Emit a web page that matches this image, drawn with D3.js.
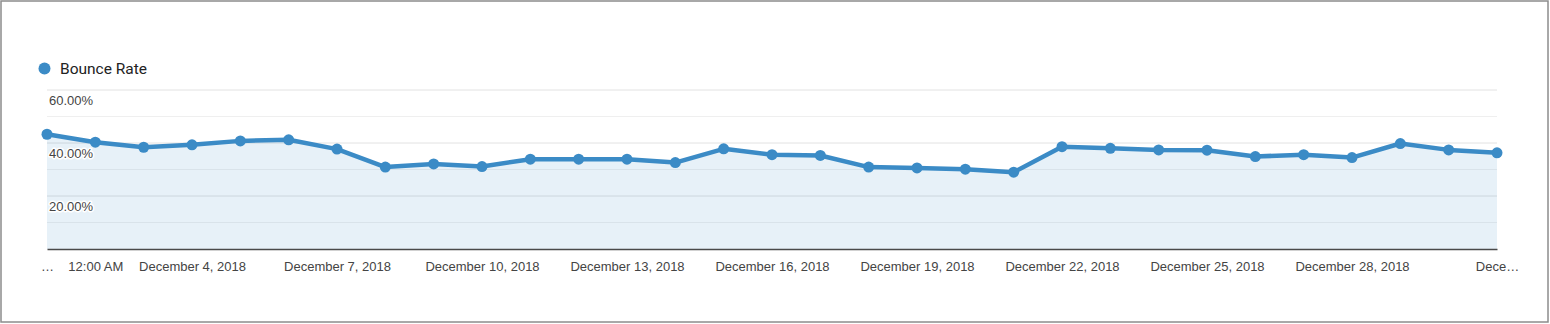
<!DOCTYPE html>
<html>
<head>
<meta charset="utf-8">
<script src="https://cdn.jsdelivr.net/npm/d3@7"></script>
<style>
  html, body { margin: 0; padding: 0; background: #fff; }
  svg { display: block; }
</style>
</head>
<body>
<svg id="chart" width="1550" height="324"></svg>
<script>
// Daily bounce rate, December 2018 (percent)
const days = d3.range(1, 32).map(d => `2018-12-${String(d).padStart(2, "0")}`);
const bounceRate = [
  43.3, 40.3, 38.4, 39.3, 40.8, 41.2, 37.7, 30.9, 32.1, 31.1,
  33.9, 33.9, 33.9, 32.6, 37.8, 35.6, 35.3, 30.9, 30.6, 30.1,
  29.0, 38.6, 38.0, 37.4, 37.3, 34.9, 35.6, 34.5, 39.8, 37.4,
  36.3
];
const seriesName = "Bounce Rate";

// Category axis labels (as shown along the bottom)
const xTickDays = ["2018-12-01", "2018-12-02", "2018-12-04", "2018-12-07", "2018-12-10",
  "2018-12-13", "2018-12-16", "2018-12-19", "2018-12-22", "2018-12-25", "2018-12-28", "2018-12-31"];
const xTickLabels = ["…", "12:00 AM", "December 4, 2018", "December 7, 2018", "December 10, 2018",
  "December 13, 2018", "December 16, 2018", "December 19, 2018", "December 22, 2018",
  "December 25, 2018", "December 28, 2018", "Dece…"];

// Value axis
const yGridValues = [10, 20, 30, 40, 50, 60];
const yLabelValues = [20, 40, 60];

const color = "#3b8bc6";
const svg = d3.select("#chart");

// outer frame
svg.append("rect")
  .attr("x", 1).attr("y", 1).attr("width", 1547).attr("height", 321)
  .attr("fill", "none").attr("stroke", "#8c8c8c").attr("stroke-width", 1.5);

const x = d3.scalePoint().domain(days).range([47, 1497]);
const y = d3.scaleLinear().domain([0, 60]).range([249, 90]);

// gridlines: labelled values slightly stronger than the minor ones
svg.append("g")
  .selectAll("line")
  .data(yGridValues)
  .join("line")
  .attr("x1", 47).attr("x2", 1497)
  .attr("y1", d => y(d)).attr("y2", d => y(d))
  .attr("stroke", d => yLabelValues.includes(d) ? "#e2e2e2" : "#efefef")
  .attr("stroke-width", 1);

// area fill under the line
const data = days.map((d, i) => ({ day: d, v: bounceRate[i] }));
svg.append("path")
  .datum(data)
  .attr("fill", color).attr("fill-opacity", 0.12)
  .attr("d", d3.area().x(d => x(d.day)).y0(y(0)).y1(d => y(d.v)));

// bottom axis
const xAxis = d3.axisBottom(x)
  .tickValues(xTickDays)
  .tickSize(0)
  .tickPadding(13)
  .tickFormat(d => xTickLabels[xTickDays.indexOf(d)]);
const gx = svg.append("g").attr("transform", `translate(0,${y(0)})`).call(xAxis);
gx.select(".domain").attr("stroke", "#4a4a4a").attr("stroke-width", 1.5);
gx.selectAll("text")
  .attr("font-family", "'Liberation Sans', Arial, sans-serif")
  .attr("font-size", 13).attr("fill", "#444");

// series line
svg.append("path")
  .datum(data)
  .attr("fill", "none").attr("stroke", color).attr("stroke-width", 4.5)
  .attr("stroke-linejoin", "round")
  .attr("d", d3.line().x(d => x(d.day)).y(d => y(d.v)));

// points
svg.append("g")
  .selectAll("circle")
  .data(data)
  .join("circle")
  .attr("cx", d => x(d.day)).attr("cy", d => y(d.v)).attr("r", 5.5)
  .attr("fill", color);

// value labels, drawn above the series with a white halo
const fmt = d3.format(".2f");
svg.append("g")
  .selectAll("text")
  .data(yLabelValues)
  .join("text")
  .attr("x", 49).attr("y", d => y(d) + 15)
  .attr("font-family", "'Liberation Sans', Arial, sans-serif")
  .attr("font-size", 13).attr("fill", "#444")
  .attr("stroke", "#fff").attr("stroke-width", 3).attr("paint-order", "stroke")
  .attr("stroke-linejoin", "round")
  .text(d => `${fmt(d)}%`);

// legend
const legend = svg.append("g");
legend.append("circle").attr("cx", 44.5).attr("cy", 68.5).attr("r", 6).attr("fill", color);
legend.append("text")
  .attr("x", 60).attr("y", 74)
  .attr("font-family", "Roboto, sans-serif")
  .attr("font-size", 15.5).attr("fill", "#222")
  .text(seriesName);
</script>
</body>
</html>
